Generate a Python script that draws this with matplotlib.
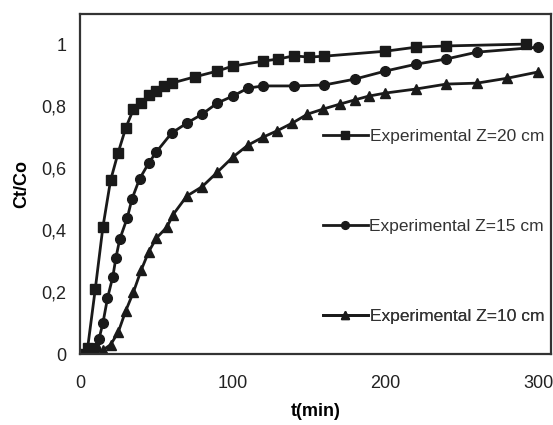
import matplotlib.pyplot as plt

plt.rcParams['font.family'] = ['Liberation Sans', 'DejaVu Sans']

# Z = 20 cm (squares)
t20 = [0, 5, 10, 15, 20, 25, 30, 35, 40, 45, 50, 55, 60, 75, 90, 100, 120, 130,
       140, 150, 160, 200, 220, 240, 292]
c20 = [0.0, 0.02, 0.21, 0.41, 0.56, 0.65, 0.73, 0.79, 0.81, 0.835, 0.85, 0.865,
       0.874, 0.894, 0.913, 0.929, 0.945, 0.952, 0.962, 0.958, 0.961, 0.977,
       0.99, 0.994, 1.0]

# Z = 15 cm (circles)
t15 = [0, 5, 10, 12.5, 15, 18, 21.5, 23.5, 26, 31, 34, 39, 45, 50, 60, 70, 80,
       90, 100, 110, 120, 140, 160, 180, 200, 220, 240, 260, 300]
c15 = [0.0, 0.01, 0.02, 0.05, 0.10, 0.18, 0.25, 0.31, 0.37, 0.44, 0.50, 0.565,
       0.616, 0.652, 0.713, 0.745, 0.774, 0.81, 0.832, 0.858, 0.865, 0.865,
       0.868, 0.887, 0.913, 0.935, 0.952, 0.974, 0.99]

# Z = 10 cm (triangles)
t10 = [0, 5, 10, 15, 20, 25, 30, 35, 40, 45, 50, 57, 61, 70, 80, 90, 100, 110,
       120, 129, 139, 149, 159, 170, 180, 189, 200, 220, 240, 260, 280, 300]
c10 = [0.0, 0.0, 0.005, 0.013, 0.03, 0.07, 0.14, 0.20, 0.27, 0.33, 0.374, 0.41,
       0.45, 0.51, 0.54, 0.587, 0.635, 0.674, 0.70, 0.72, 0.745, 0.774, 0.79,
       0.806, 0.82, 0.832, 0.842, 0.855, 0.871, 0.874, 0.89, 0.91]

yticks = [0, 0.2, 0.4, 0.6, 0.8, 1]
ylabels = ['0', '0,2', '0,4', '0,6', '0,8', '1']
xticks = [0, 100, 200, 300]

fig = plt.figure(figsize=(5.53, 4.25), dpi=100)
ax = fig.add_axes([0.1447, 0.167, 0.8517, 0.800])

kw = dict(color='#1a1a1a', linewidth=2, markersize=7)
l20, = ax.plot(t20, c20, marker='s', **kw)
l15, = ax.plot(t15, c15, marker='o', **kw)
l10, = ax.plot(t10, c10, marker='^', **kw)

ax.set_xlim(0, 308.5)
ax.set_ylim(0, 1.097)
ax.set_xticks(xticks)
ax.set_yticks(yticks)
ax.set_yticklabels(ylabels)
ax.tick_params(length=0, labelsize=13, colors='#222222')
ax.tick_params(axis='x', pad=15)
ax.tick_params(axis='y', pad=10)
for s in ax.spines.values():
    s.set_linewidth(1.6)
    s.set_color('#333333')

ax.set_xlabel('t(min)', fontsize=13, fontweight='bold', labelpad=8)
ax.set_ylabel('Ct/Co', fontsize=13, fontweight='bold', labelpad=8)

# legend entries placed separately, as in the original
names = ['Experimental Z=20 cm', 'Experimental Z=15 cm', 'Experimental Z=10 cm']
ypos = [0.64, 0.375, 0.11]
for h, name, yp in zip([l20, l15, l10], names, ypos):
    leg = ax.legend([h], [name], loc='center right', bbox_to_anchor=(1.0, yp),
                    frameon=False, fontsize=12.5, handlelength=2.6,
                    handletextpad=0.1, borderaxespad=0.0, markerscale=0.8,
                    labelcolor='#333333')
    ax.add_artist(leg)

fig.savefig('out.png', dpi=100)
